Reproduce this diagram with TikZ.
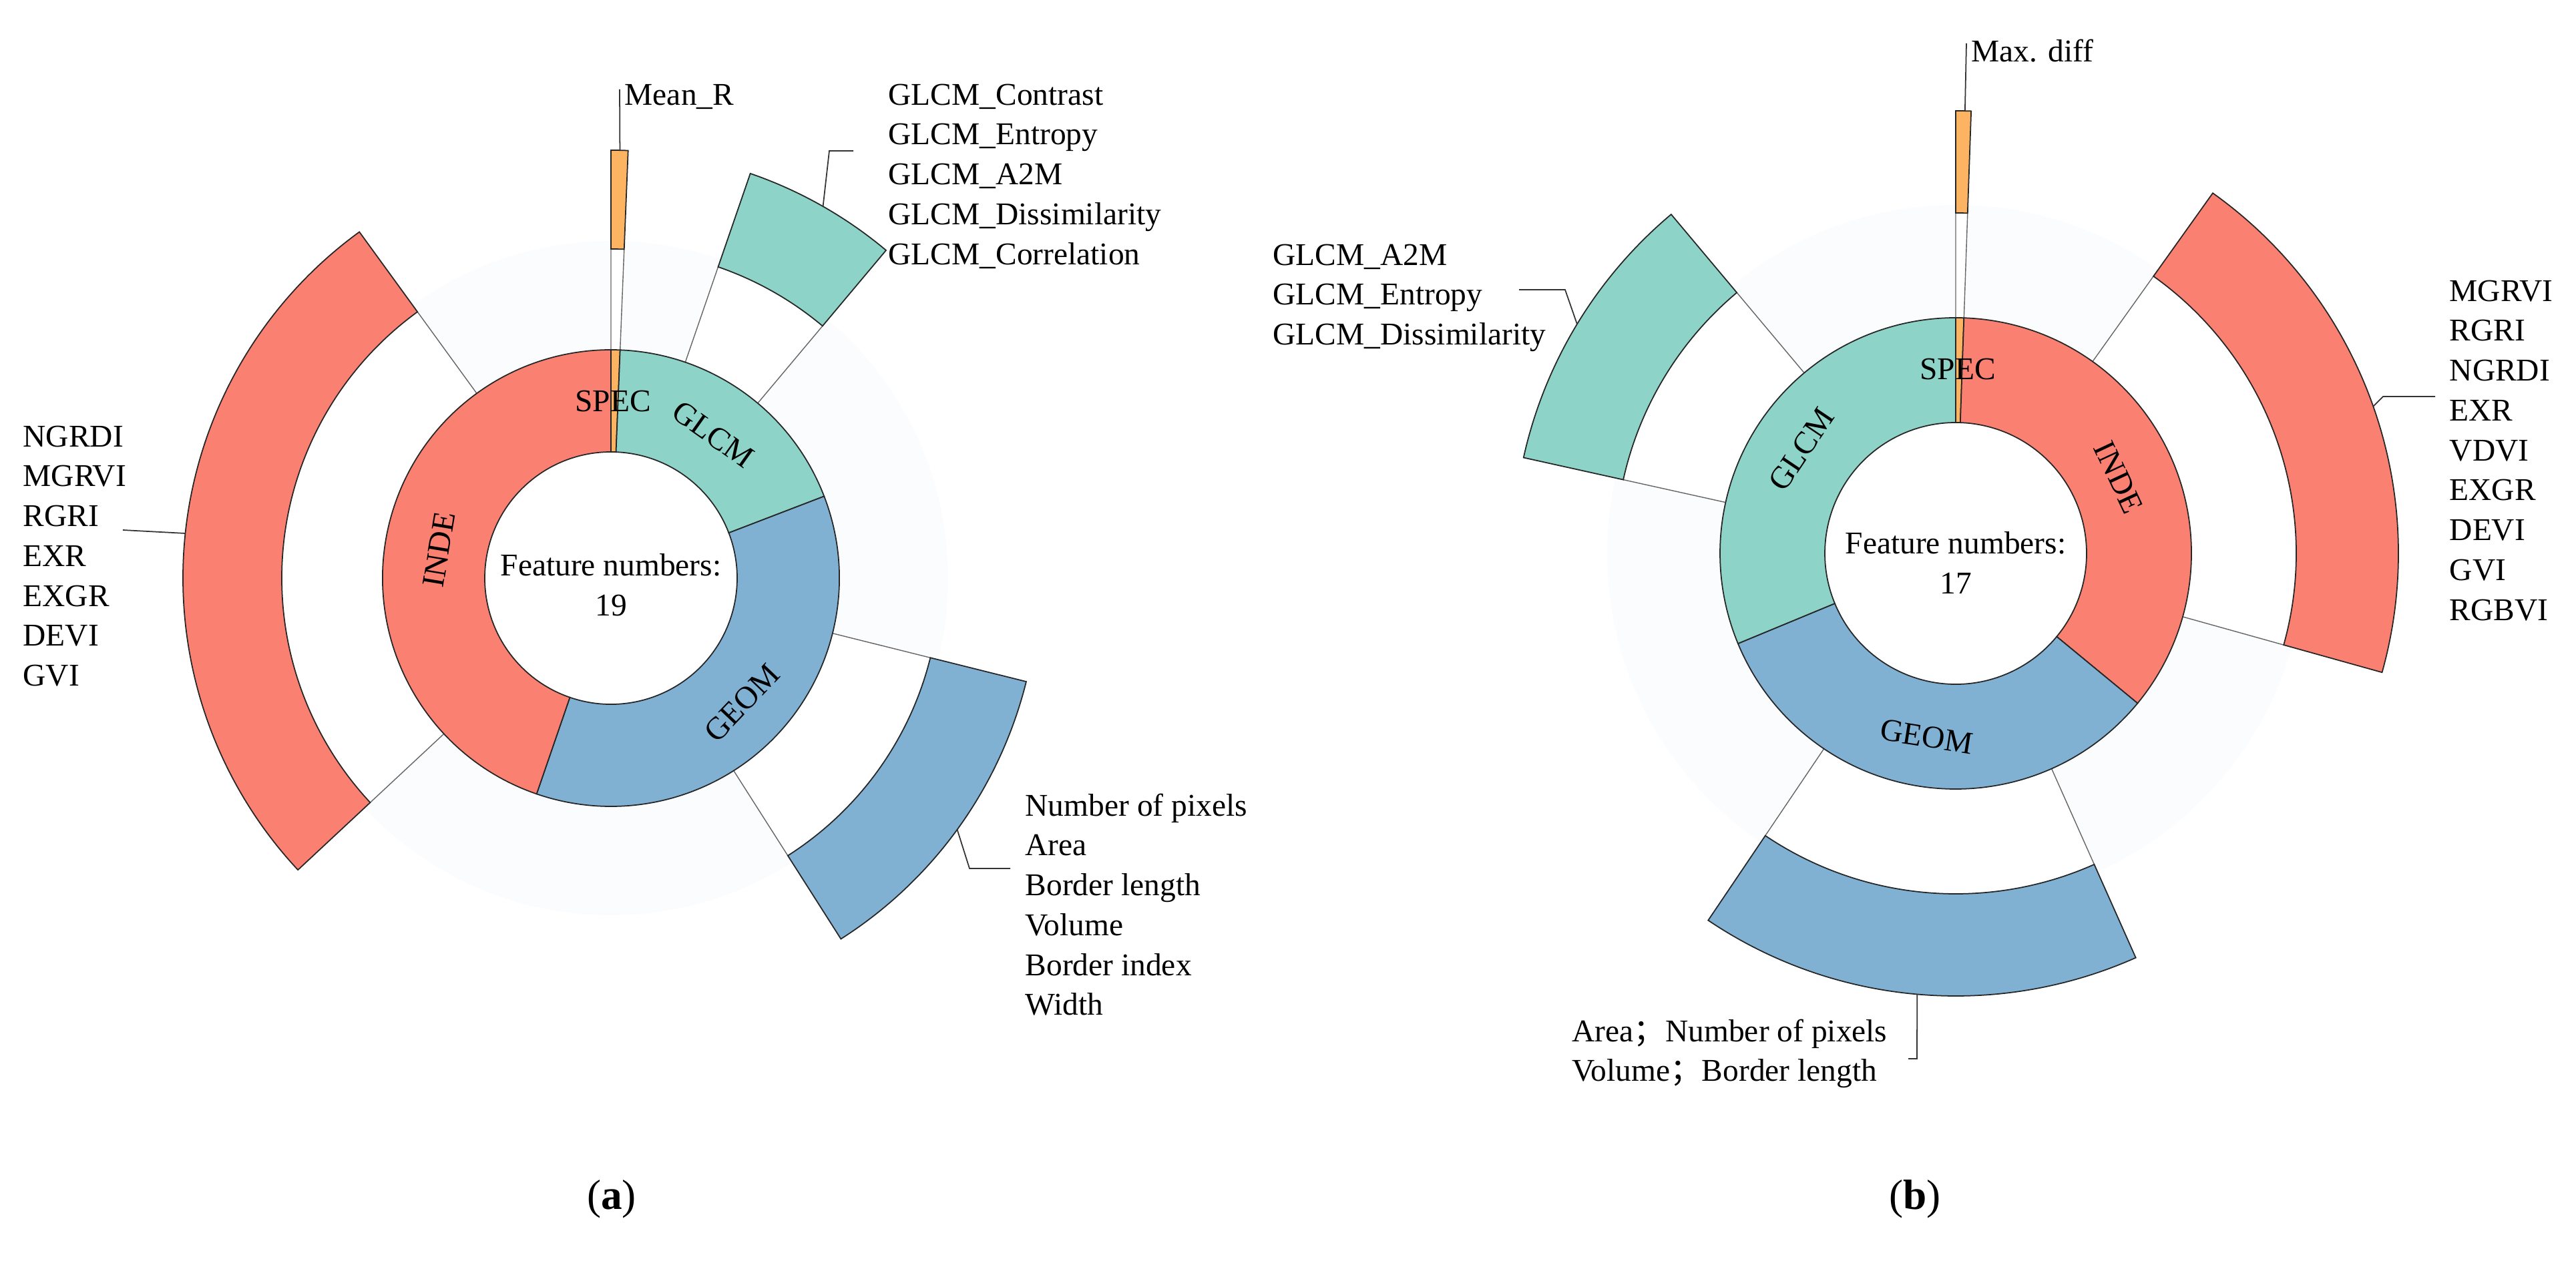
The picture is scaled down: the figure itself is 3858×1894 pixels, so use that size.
\documentclass[tikz,border=0pt]{standalone}
\usepackage{fontspec}
\setmainfont{Liberation Serif}
\newfontfamily\cjk{Noto Sans CJK SC}
\definecolor{inde}{RGB}{250,128,114}
\definecolor{glcm}{RGB}{141,211,199}
\definecolor{geom}{RGB}{128,177,211}
\definecolor{spec}{RGB}{253,180,98}
\definecolor{haze}{RGB}{250,252,254}
\newcommand\labfont{\fontsize{13.5}{17}\selectfont}
% sector: start angle, end angle, inner radius, outer radius, style
\newcommand\ringsec[5]{\filldraw[band, #5] (#1:#3) arc[start angle=#1, end angle=#2, radius=#3] -- (#2:#4) arc[start angle=#2, end angle=#1, radius=#4] -- cycle;}
% white gap sector with thin side lines
\newcommand\gapsec[4]{\fill[white] (#1:#3) arc[start angle=#1, end angle=#2, radius=#3] -- (#2:#4) arc[start angle=#2, end angle=#1, radius=#4] -- cycle;
  \draw[gap] (#1:#3) -- (#1:#4) (#2:#3) -- (#2:#4);}
\tikzset{
  band/.style={draw=black!85, line width=0.5pt},
  gap/.style={draw=black!60, line width=0.4pt},
  lead/.style={draw=black!80, line width=0.5pt},
  lab/.style={font=\labfont, inner sep=0pt, align=left},
  seg/.style={font=\labfont, inner sep=0pt},
  subcap/.style={font=\fontsize{18}{22}\selectfont, inner sep=0pt}
}
\begin{document}
\begin{tikzpicture}[x=0.1mm, y=0.1mm]
    \useasboundingbox (0,0) rectangle (3858,1894);

    % ---- chart (a)
    \begin{scope}[shift={(915,1028)}]
        \fill[haze] (0,0) circle (505);
        \fill[white] (0,0) circle (189);
        \gapsec{126}{223}{342}{493}
        \gapsec{50}{71}{342}{493}
        \gapsec{-57.5}{-14}{342}{493}
        \gapsec{87.7}{90}{342}{493}
        % inner ring
        \ringsec{87.7}{90}{189}{342}{fill=spec}
        \ringsec{21}{87.7}{189}{342}{fill=glcm}
        \ringsec{-109}{21}{189}{342}{fill=geom}
        \ringsec{90}{251}{189}{342}{fill=inde}
        % outer bands
        \ringsec{87.7}{90}{493}{641}{fill=spec}
        \ringsec{50}{71}{493}{641}{fill=glcm}
        \ringsec{-57.5}{-14}{493}{641}{fill=geom}
        \ringsec{126}{223}{493}{641}{fill=inde}
        % ring names
        \node[seg] (specA) at (3,265) {SPEC};
        \node[seg, rotate=-35.4] (glcmA) at (54.6:264) {GLCM};
        \node[seg, rotate=46.4] (geomA) at (-43.6:271) {GEOM};
        \node[seg, rotate=80.6] (indeA) at (170.6:261) {INDE};
        \node[seg, align=center] (numA) at (0,-10) {Feature numbers:\\19};
        \coordinate (specAout) at (88.8:641);
        \coordinate (glcmAout) at (60.3:641);
        \coordinate (geomAout) at (-36:641);
        \coordinate (indeAout) at (174:641);
    \end{scope}
    \coordinate (specAtop) at (928,1760);
    \coordinate (glcmAk) at (1242,1668);
    \coordinate (glcmAe) at (1278,1668);
    \coordinate (geomAk) at (1452,593);
    \coordinate (geomAe) at (1513,593);
    \coordinate (indeAe) at (184,1100);
    \draw[lead] (specAout) -- (specAtop);
    \draw[lead] (glcmAout) -- (glcmAk) -- (glcmAe);
    \draw[lead] (geomAout) -- (geomAk) -- (geomAe);
    \draw[lead] (indeAout) -- (indeAe);
    \node[lab, anchor=north west] (specAlab) at (935,1768) {Mean\_R};
    \node[lab, anchor=north west] (glcmAlab) at (1330,1769) {GLCM\_Contrast\\GLCM\_Entropy\\GLCM\_A2M\\GLCM\_Dissimilarity\\GLCM\_Correlation};
    \node[lab, anchor=north west] (indeAlab) at (34,1257) {NGRDI\\MGRVI\\RGRI\\EXR\\EXGR\\DEVI\\GVI};
    \node[lab, anchor=north west] (geomAlab) at (1535,706) {Number of pixels\\Area\\Border length\\Volume\\Border index\\Width};
    \node[subcap] (capA) at (916,98) {(\textbf{a})};

    % ---- chart (b)
    \begin{scope}[shift={(2929,1065)}]
        \fill[haze] (0,0) circle (522);
        \fill[white] (0,0) circle (196);
        \gapsec{-15.6}{54.5}{353}{510}
        \gapsec{130}{167.5}{353}{510}
        \gapsec{236}{294}{353}{510}
        \gapsec{88}{90}{353}{510}
        % inner ring
        \ringsec{88}{90}{196}{353}{fill=spec}
        \ringsec{-39.5}{88}{196}{353}{fill=inde}
        \ringsec{202.5}{320.5}{196}{353}{fill=geom}
        \ringsec{90}{202.5}{196}{353}{fill=glcm}
        % outer bands
        \ringsec{88}{90}{510}{663}{fill=spec}
        \ringsec{-15.6}{54.5}{510}{663}{fill=inde}
        \ringsec{130}{167.5}{510}{663}{fill=glcm}
        \ringsec{236}{294}{510}{663}{fill=geom}
        % ring names
        \node[seg] (specB) at (3,276) {SPEC};
        \node[seg, rotate=56] (glcmB) at (146:279) {GLCM};
        \node[seg, rotate=-65] (indeB) at (25:269) {INDE};
        \node[seg, rotate=-9] (geomB) at (-99:278) {GEOM};
        \node[seg, align=center] (numB) at (0,-14) {Feature numbers:\\17};
        \coordinate (specBout) at (88.8:663);
        \coordinate (glcmBout) at (148.8:663);
        \coordinate (indeBout) at (19.4:663);
        \coordinate (geomBout) at (265:663);
    \end{scope}
    \coordinate (specBtop) at (2945,1829);
    \coordinate (glcmBk) at (2344,1460);
    \coordinate (glcmBe) at (2275,1460);
    \coordinate (indeBk) at (3569,1300);
    \coordinate (indeBe) at (3647,1300);
    \coordinate (geomBk) at (2871,308);
    \coordinate (geomBe) at (2858,308);
    \draw[lead] (specBout) -- (specBtop);
    \draw[lead] (glcmBout) -- (glcmBk) -- (glcmBe);
    \draw[lead] (indeBout) -- (indeBk) -- (indeBe);
    \draw[lead] (geomBout) -- (geomBk) -- (geomBe);
    \node[lab, anchor=north west] (specBlab) at (2952,1836) {Max. diff};
    \node[lab, anchor=north west] (glcmBlab) at (1906,1529) {GLCM\_A2M\\GLCM\_Entropy\\GLCM\_Dissimilarity};
    \node[lab, anchor=north west] (indeBlab) at (3668,1475) {MGRVI\\RGRI\\NGRDI\\EXR\\VDVI\\EXGR\\DEVI\\GVI\\RGBVI};
    \node[lab, anchor=north west] (geomBlab) at (2354,368) {Area{\cjk ；}Number of pixels\\Volume{\cjk ；}Border length};
    \node[subcap] (capB) at (2868,98) {(\textbf{b})};
\end{tikzpicture}
\end{document}
